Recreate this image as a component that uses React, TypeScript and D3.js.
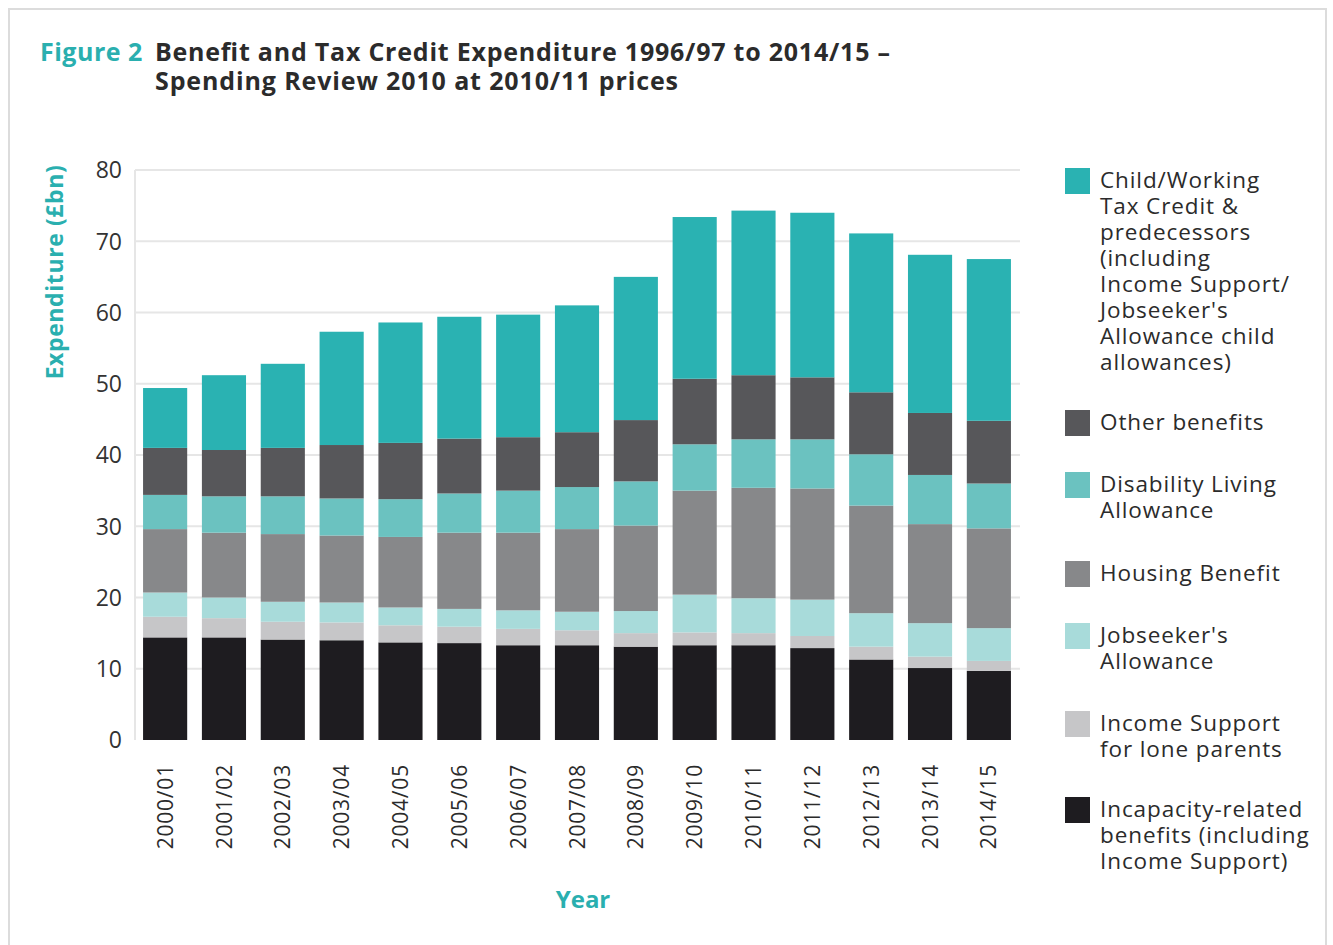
import React from "react";
import * as d3 from "d3";

// years on the x axis
const years = ["2000/01", "2001/02", "2002/03", "2003/04", "2004/05", "2005/06", "2006/07", "2007/08",
    "2008/09", "2009/10", "2010/11", "2011/12", "2012/13", "2013/14", "2014/15"];

// series, bottom to top (£bn)
const incapacity = [14.4, 14.4, 14.1, 14.0, 13.7, 13.6, 13.3, 13.3, 13.1, 13.3, 13.3, 12.9, 11.3, 10.1, 9.7];
const loneParents = [2.9, 2.7, 2.5, 2.5, 2.4, 2.3, 2.3, 2.1, 1.9, 1.8, 1.7, 1.7, 1.8, 1.6, 1.4];
const jobseekers = [3.4, 2.9, 2.8, 2.8, 2.5, 2.5, 2.6, 2.6, 3.1, 5.3, 4.9, 5.1, 4.7, 4.7, 4.6];
const housing = [8.9, 9.1, 9.5, 9.4, 9.9, 10.7, 10.9, 11.6, 12.0, 14.6, 15.5, 15.6, 15.1, 13.9, 14.0];
const disability = [4.8, 5.1, 5.3, 5.2, 5.3, 5.5, 5.9, 5.9, 6.2, 6.5, 6.8, 6.9, 7.2, 6.9, 6.3];
const otherBenefits = [6.6, 6.5, 6.8, 7.5, 7.9, 7.7, 7.5, 7.7, 8.6, 9.2, 9.0, 8.7, 8.7, 8.7, 8.8];
const taxCredits = [8.4, 10.5, 11.8, 15.9, 16.9, 17.1, 17.2, 17.8, 20.1, 22.7, 23.1, 23.1, 22.3, 22.2, 22.7];

const yTicks = [0, 10, 20, 30, 40, 50, 60, 70, 80];

const seriesKeys = ["incap", "lone", "jsa", "hb", "dla", "other", "ctc"];
const seriesValues = [incapacity, loneParents, jobseekers, housing, disability, otherBenefits, taxCredits];
const seriesColors = ["#1e1c20", "#c6c6c8", "#a8dbda", "#87888a", "#6bc2c0", "#57575a", "#2ab2b2"];

// legend, top to bottom
const legendItems = [
    {key: "ctc", lines: ["Child/Working", "Tax Credit &", "predecessors", "(including", "Income Support/", "Jobseeker's", "Allowance child", "allowances)"]},
    {key: "other", lines: ["Other benefits"]},
    {key: "dla", lines: ["Disability Living", "Allowance"]},
    {key: "hb", lines: ["Housing Benefit"]},
    {key: "jsa", lines: ["Jobseeker's", "Allowance"]},
    {key: "lone", lines: ["Income Support", "for lone parents"]},
    {key: "incap", lines: ["Incapacity-related", "benefits (including", "Income Support)"]},
];
const legendTops = [168, 410, 472, 561, 623, 711, 797];

const teal = "#2aafaf";
const font = "'Open Sans', sans-serif";

export default function App() {
    const m = {l: 135, r: 1020, t: 170, b: 740};

    const x = d3.scaleBand<string>()
        .domain(years)
        .range([136, 1018])
        .paddingInner(0.25)
        .paddingOuter(0.12);
    const y = d3.scaleLinear().domain([0, 80]).range([m.b, m.t]);

    const rows = years.map((yr, i) => {
        const o: {[k: string]: any} = {year: yr};
        seriesKeys.forEach((k, j) => o[k] = seriesValues[j][i]);
        return o;
    });
    const stacked = d3.stack<any>().keys(seriesKeys)(rows);
    const color = d3.scaleOrdinal<string, string>().domain(seriesKeys).range(seriesColors);

    return (
        <svg width={1333} height={945} style={{position: "absolute", left: 0, top: 0, background: "#fff"}}
             fontFamily={font}>
            <rect x={9} y={9} width={1317} height={950} fill="none" stroke="#dcdcdc" strokeWidth={2}/>

            <text fontSize={25} fontWeight={700} fill="#2b2b2b">
                <tspan x={40} y={61} fill={teal} letterSpacing={0.5}>Figure 2</tspan>
                <tspan x={155} y={61} textLength={735} lengthAdjust="spacing">Benefit and Tax Credit Expenditure 1996/97 to 2014/15 –</tspan>
                <tspan x={155} y={90} textLength={523} lengthAdjust="spacing">Spending Review 2010 at 2010/11 prices</tspan>
            </text>

            {/* grid */}
            {yTicks.map(t => (
                <g key={t}>
                    {t > 0 && <line x1={m.l} x2={m.r} y1={y(t)} y2={y(t)} stroke="#e6e6e6" strokeWidth={2}/>}
                    <text x={122} y={y(t)} dy="0.36em" textAnchor="end" fontSize={23} fill="#333">{t}</text>
                </g>
            ))}
            <line x1={m.l} x2={m.l} y1={m.t} y2={m.b} stroke="#e6e6e6" strokeWidth={2}/>

            {/* bars */}
            {stacked.map(s => (
                <g key={s.key} fill={color(s.key)}>
                    {s.map((d, i) => (
                        <rect key={i} x={x(years[i])} width={x.bandwidth()}
                              y={y(d[1])} height={y(d[0]) - y(d[1])}/>
                    ))}
                </g>
            ))}

            {/* x labels */}
            {years.map(yr => {
                const cx = (x(yr) as number) + x.bandwidth() / 2;
                return (
                    <text key={yr} transform={`translate(${cx},764) rotate(-90)`} dy="0.36em"
                          textAnchor="end" fontSize={21} letterSpacing={0.8} fill="#2b2b2b">{yr}</text>
                );
            })}

            <text x={583} y={908} textAnchor="middle" fontSize={24} fontWeight={700} fill={teal}>Year</text>
            <text transform="translate(55,272) rotate(-90)" dy="0.36em" textAnchor="middle" fontSize={23}
                  letterSpacing={0.6} fontWeight={700} fill={teal}>Expenditure (£bn)</text>

            {/* legend */}
            {legendItems.map((it, i) => (
                <g key={it.key} transform={`translate(1065,${legendTops[i]})`}>
                    <rect width={25} height={26} fill={color(it.key)}/>
                    <text fontSize={22.5} letterSpacing={0.9} fill="#2b2b2b">
                        {it.lines.map((ln, j) => (
                            <tspan key={j} x={35} y={20 + j * 26}>{ln}</tspan>
                        ))}
                    </text>
                </g>
            ))}
        </svg>
    );
}
